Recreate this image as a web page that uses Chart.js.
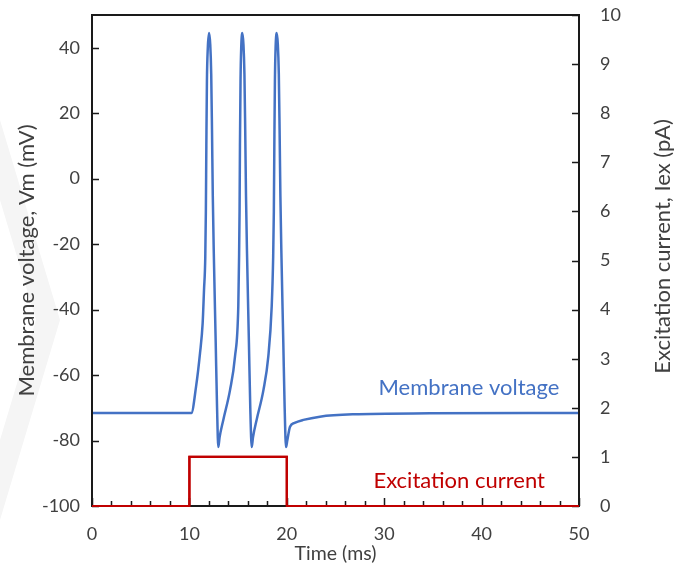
<!DOCTYPE html>
<html>
<head>
<meta charset="utf-8">
<script src="https://cdn.jsdelivr.net/npm/chart.js@4.4.1/dist/chart.umd.min.js"></script>
<style>
  html, body { margin: 0; padding: 0; background: #ffffff; }
  #wrap { width: 674px; height: 584px; position: relative; }
</style>
</head>
<body>
<div id="wrap"><canvas id="c" width="674" height="584"></canvas></div>
<script>
// Membrane voltage trace: time (ms) and Vm (mV)
const timeV = [0, 10.2, 10.68, 11.09, 11.36, 11.5, 11.63, 11.69, 11.74, 11.8, 11.89, 12.02, 12.14, 12.24, 12.32, 12.4, 12.5, 12.7, 12.84, 12.97,
  13.1, 13.48, 14.17, 14.68, 15.02, 15.1, 15.15, 15.19, 15.25, 15.32, 15.43, 15.55, 15.65, 15.73, 15.81, 15.91, 16.11, 16.25, 16.4,
  16.53, 16.9, 17.6, 18.1, 18.45, 18.6, 18.67, 18.72, 18.78, 18.85, 18.96, 19.08, 19.18, 19.26, 19.34, 19.44, 19.64, 19.78, 19.92,
  20.05, 20.33, 20.8, 21.7, 23.4, 26.8, 34.7, 50];
const vm = [-71.6, -71.6, -63.6, -53.3, -44.2, -34, -24, -10, 10, 30, 40, 44.5, 41, 32, 15, -5, -22, -50, -70, -82,
  -79, -73.7, -64.6, -54.4, -39, -24, -10, 10, 30, 40, 44.5, 41, 32, 15, -5, -22, -50, -70, -82,
  -79, -73.7, -64.6, -54.4, -39, -24, -10, 10, 30, 40, 44.5, 41, 32, 15, -5, -22, -50, -70, -82,
  -80, -75.8, -74.6, -73.7, -72.7, -72, -71.7, -71.6];

// Excitation current pulse: time (ms) and Iex (pA)
const timeI = [0, 10, 10, 20, 20, 50];
const iex = [0, 0, 1, 1, 0, 0];

// Tick values
const timeTicks = [0, 10, 20, 30, 40, 50];
const vmTicks = [-100, -80, -60, -40, -20, 0, 20, 40];
const iexTicks = [0, 1, 2, 3, 4, 5, 6, 7, 8, 9, 10];

const BLUE = '#4472C4';
const RED = '#C00000';
const TEXT = '#404040';
const FONT = 'Lato, "Open Sans", sans-serif';

const vmPoints = timeV.map((t, i) => ({ x: t, y: vm[i] }));
const iexPoints = timeI.map((t, i) => ({ x: t, y: iex[i] }));

// keep the plot box at a fixed place: no extra room for half-labels
function fixedSize(prop, size) {
  return s => {
    s[prop] = size;
    s.paddingTop = 0; s.paddingBottom = 0; s.paddingLeft = 0; s.paddingRight = 0;
  };
}

// Frame, inward tick marks, in-plot labels, right axis title and faint backdrop
const decor = {
  id: 'decor',
  beforeDraw(chart) {
    const ctx = chart.ctx;
    ctx.save();
    ctx.fillStyle = '#f5f5f5';
    ctx.beginPath();
    ctx.moveTo(0, 120); ctx.lineTo(60, 320); ctx.lineTo(0, 520);
    ctx.lineTo(0, 440); ctx.lineTo(36, 320); ctx.lineTo(0, 200);
    ctx.closePath();
    ctx.fill();
    ctx.restore();
  },
  afterDatasetsDraw(chart, args, opts) {
    const { ctx, chartArea: a, scales } = chart;
    const x = scales.x, y = scales.y, y1 = scales.y1;
    ctx.save();
    ctx.strokeStyle = '#1a1a1a';
    ctx.lineWidth = 1.5;
    ctx.beginPath();
    vmTicks.forEach(v => { const py = Math.round(y.getPixelForValue(v)) + 0.5; ctx.moveTo(a.left, py); ctx.lineTo(a.left + 7, py); });
    iexTicks.forEach(v => { const py = Math.round(y1.getPixelForValue(v)) + 0.5; ctx.moveTo(a.right, py); ctx.lineTo(a.right - 7, py); });
    for (let t = 0; t <= 50; t += 2) {
      const px = Math.round(x.getPixelForValue(t)) + 0.5;
      ctx.moveTo(px, a.bottom); ctx.lineTo(px, a.bottom - (t % 10 === 0 ? 8 : 5));
    }
    ctx.stroke();
    ctx.lineWidth = 2;
    ctx.strokeRect(a.left, a.top, a.right - a.left, a.bottom - a.top);
    ctx.restore();

    // redraw the current trace over the frame so the baseline reads red
    const meta = chart.getDatasetMeta(1);
    ctx.save();
    ctx.strokeStyle = RED;
    ctx.lineWidth = 2.2;
    ctx.beginPath();
    meta.data.forEach((p, i) => { if (i === 0) ctx.moveTo(p.x, p.y); else ctx.lineTo(p.x, p.y); });
    ctx.stroke();
    ctx.restore();

    ctx.save();
    ctx.textAlign = 'center';
    ctx.textBaseline = 'middle';
    opts.notes.forEach(n => {
      ctx.fillStyle = n.color;
      ctx.font = '22px ' + FONT;
      const sy = n.axis === 'y1' ? y1 : y;
      ctx.fillText(n.text, x.getPixelForValue(n.x), sy.getPixelForValue(n.y));
    });
    ctx.translate(663, (a.top + a.bottom) / 2 - 14);
    ctx.rotate(-Math.PI / 2);
    ctx.fillStyle = TEXT;
    ctx.font = '22px ' + FONT;
    ctx.fillText('Excitation current, Iex (pA)', 0, 0);
    ctx.restore();
  }
};

new Chart(document.getElementById('c'), {
  type: 'line',
  data: {
    datasets: [
      {
        label: 'Membrane voltage',
        data: vmPoints,
        yAxisID: 'y',
        borderColor: BLUE,
        borderWidth: 2.5,
        pointRadius: 0,
        cubicInterpolationMode: 'monotone',
        fill: false
      },
      {
        label: 'Excitation current',
        data: iexPoints,
        yAxisID: 'y1',
        borderColor: RED,
        borderWidth: 2.2,
        pointRadius: 0,
        tension: 0,
        fill: false,
        clip: false
      }
    ]
  },
  options: {
    responsive: false,
    animation: false,
    devicePixelRatio: 1,
    layout: { padding: { top: 15, left: 0, right: 0, bottom: 0 } },
    plugins: {
      legend: { display: false },
      tooltip: { enabled: false },
      decor: {
        notes: [
          { text: 'Membrane voltage', x: 38.7, y: -64, axis: 'y', color: BLUE },
          { text: 'Excitation current', x: 37.7, y: 0.52, axis: 'y1', color: RED }
        ]
      }
    },
    scales: {
      x: {
        type: 'linear',
        min: 0, max: 50,
        afterFit: fixedSize('height', 78),
        afterBuildTicks: s => { s.ticks = timeTicks.map(v => ({ value: v })); },
        grid: { display: false, drawTicks: false },
        border: { display: false },
        ticks: { color: TEXT, font: { family: FONT, size: 18 }, padding: 17, maxRotation: 0 },
        title: { display: true, text: 'Time (ms)', color: TEXT, font: { family: FONT, size: 19.5 }, padding: { top: 0, bottom: 19 } }
      },
      y: {
        type: 'linear',
        position: 'left',
        min: -100, max: 50,
        afterFit: fixedSize('width', 92),
        afterBuildTicks: s => { s.ticks = vmTicks.map(v => ({ value: v })); },
        grid: { display: false, drawTicks: false },
        border: { display: false },
        ticks: { color: TEXT, font: { family: FONT, size: 18 }, padding: 12 },
        title: { display: true, text: 'Membrane voltage, Vm (mV)', color: TEXT, font: { family: FONT, size: 22 }, padding: { top: 14, bottom: 0 } }
      },
      y1: {
        type: 'linear',
        position: 'right',
        min: 0, max: 10,
        afterFit: fixedSize('width', 95),
        afterBuildTicks: s => { s.ticks = iexTicks.map(v => ({ value: v })); },
        grid: { display: false, drawTicks: false },
        border: { display: false },
        ticks: { color: TEXT, font: { family: FONT, size: 18 }, padding: 21 }
      }
    }
  },
  plugins: [decor]
});
</script>
</body>
</html>
